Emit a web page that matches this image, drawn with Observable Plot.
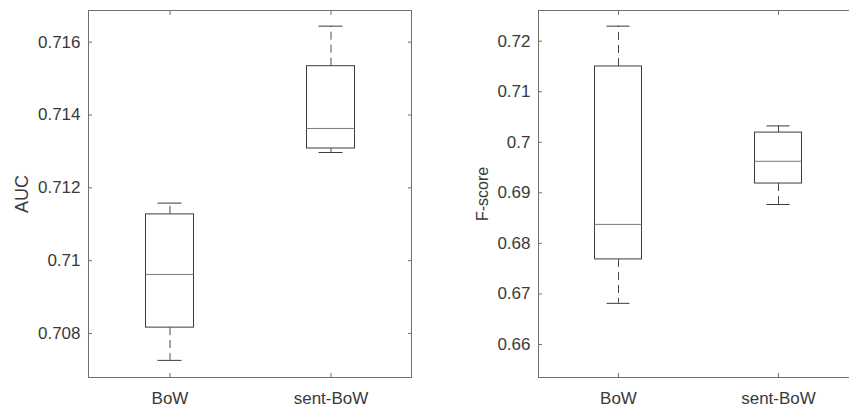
<!DOCTYPE html>
<html>
<head>
<meta charset="utf-8">
<script src="https://cdn.jsdelivr.net/npm/d3@7"></script>
<script src="https://cdn.jsdelivr.net/npm/@observablehq/plot@0.6"></script>
<style>
  html, body { margin: 0; padding: 0; background: #fff; overflow: hidden; }
  #wrap { position: relative; width: 849px; height: 407px; overflow: hidden; background: #fff; }
  #left, #right { position: absolute; top: 0; }
  #left { left: 0; width: 425px; }
  #right { left: 425px; width: 443px; }
  #wrap svg { max-width: none !important; display: block; }
</style>
</head>
<body>
<div id="wrap"><div id="left"></div><div id="right"></div></div>
<script>
// ---- data ----
const categories = ["BoW", "sent-BoW"];

// AUC box statistics
const aucMin = [0.70726, 0.71297];
const aucQ1  = [0.70816, 0.71308];
const aucMed = [0.70962, 0.71363];
const aucQ3  = [0.71127, 0.71534];
const aucMax = [0.71158, 0.71644];

// F-score box statistics
const fMin = [0.66814, 0.68769];
const fQ1  = [0.67683, 0.69184];
const fMed = [0.68376, 0.69624];
const fQ3  = [0.71500, 0.70192];
const fMax = [0.72297, 0.70324];

// axis ticks / domains / labels
const aucTicks = [0.708, 0.710, 0.712, 0.714, 0.716];
const fTicks = [0.66, 0.67, 0.68, 0.69, 0.70, 0.71, 0.72];
const aucDomain = [0.70679, 0.71687];
const fDomain = [0.65347, 0.72607];
const aucLabel = ["AUC"];
const fLabel = ["F-score"];

const fmt = d => String(+d.toFixed(3));
const FONT = "'Liberation Sans', Arial, Helvetica, sans-serif";
const TEXT = "#3a3a3a";
const FRAME = "#707070";
const BOX = "#3c3c3c";
const MED = "#7a7a7a";
const WHISK = "#4a4a4a";

function table(mn, q1, md, q3, mx) {
  return categories.map((c, i) => ({cat: c, min: mn[i], q1: q1[i], med: md[i], q3: q3[i], max: mx[i]}));
}

function panel({data, ticks, domain, label, labelSize, labelDx, width, marginLeft, marginRight}) {
  const boxInset = 56.5, capInset = 68.5;
  return Plot.plot({
    width, height: 407,
    marginLeft, marginRight, marginTop: 10, marginBottom: 30,
    style: {fontFamily: FONT, background: "white"},
    x: {type: "band", domain: categories, padding: 0, axis: null},
    y: {domain, axis: null},
    marks: [
      // whiskers
      Plot.ruleX(data, {x: "cat", y1: "q3", y2: "max", stroke: WHISK, strokeDasharray: "8,5"}),
      Plot.ruleX(data, {x: "cat", y1: "q1", y2: "min", stroke: WHISK, strokeDasharray: "8,5"}),
      Plot.tickY(data, {x: "cat", y: "max", stroke: BOX, insetLeft: capInset, insetRight: capInset}),
      Plot.tickY(data, {x: "cat", y: "min", stroke: BOX, insetLeft: capInset, insetRight: capInset}),
      // boxes
      Plot.barY(data, {x: "cat", y1: "q1", y2: "q3", fill: "white", stroke: BOX, strokeWidth: 1, insetLeft: boxInset, insetRight: boxInset}),
      Plot.tickY(data, {x: "cat", y: "med", stroke: MED, insetLeft: boxInset, insetRight: boxInset}),
      // frame
      Plot.frame({stroke: FRAME}),
      // inward ticks
      Plot.axisY({ticks, anchor: "left", tickSize: 4, dx: 4, fill: "none", stroke: FRAME, label: null}),
      Plot.axisY({ticks, anchor: "right", tickSize: 4, dx: -4, fill: "none", stroke: FRAME, label: null}),
      Plot.axisX({anchor: "bottom", tickSize: 4, dy: -4, fill: "none", stroke: FRAME, label: null}),
      Plot.axisX({anchor: "top", tickSize: 4, dy: 4, fill: "none", stroke: FRAME, label: null}),
      // tick labels
      Plot.axisY({ticks, anchor: "left", tickSize: 0, tickPadding: 8, tickFormat: fmt, fontSize: 17, fill: TEXT, label: null}),
      Plot.axisX({anchor: "bottom", tickSize: 0, tickPadding: 14, fontSize: 17, fill: TEXT, label: null}),
      // y label
      Plot.text(label, {text: d => d, frameAnchor: "left", dx: labelDx, rotate: -90, textAnchor: "middle", lineAnchor: "middle", fontSize: labelSize, fill: TEXT})
    ]
  });
}

document.getElementById("left").appendChild(panel({
  data: table(aucMin, aucQ1, aucMed, aucQ3, aucMax),
  ticks: aucTicks, domain: aucDomain, label: aucLabel, labelSize: 18, labelDx: -66,
  width: 425, marginLeft: 88, marginRight: 14
}));

document.getElementById("right").appendChild(panel({
  data: table(fMin, fQ1, fMed, fQ3, fMax),
  ticks: fTicks, domain: fDomain, label: fLabel, labelSize: 16, labelDx: -56,
  width: 443, marginLeft: 113, marginRight: 10
}));
</script>
</body>
</html>
